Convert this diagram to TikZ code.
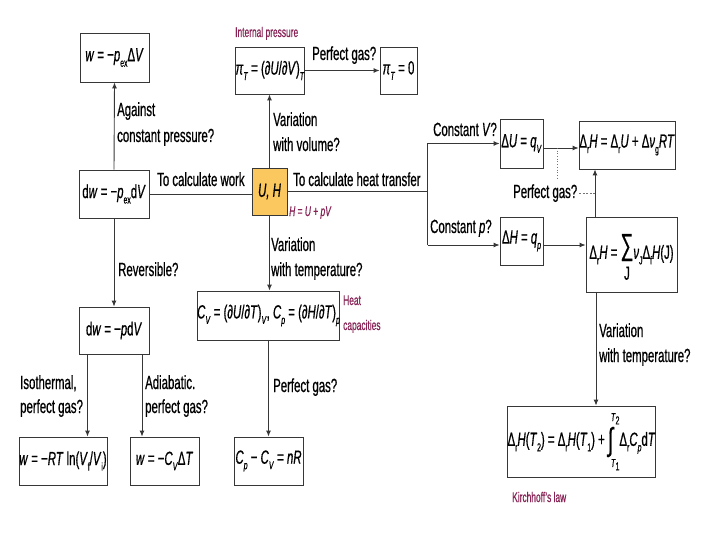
\documentclass[tikz,border=0pt]{standalone}
\usepackage{fontspec}
\setmainfont[FakeStretch=0.6,FakeBold=0.6]{Liberation Sans}
\usetikzlibrary{arrows.meta,calc}
\definecolor{lab}{RGB}{135,35,85}
\definecolor{uhfill}{RGB}{250,200,95}
\definecolor{lncol}{RGB}{55,55,55}
\newcommand\I[1]{\textit{#1}}
\newcommand\lo[1]{\raisebox{-0.55ex}{\fontsize{11.5}{11.5}\selectfont #1}}
\newcommand\smallt[1]{{\fontsize{11.5}{11.5}\selectfont #1}}
\begin{document}
\begin{tikzpicture}[x=1pt,y=-1pt,
  box/.style={draw=lncol, line width=0.9pt, inner sep=0pt, align=center, font=\fontsize{19}{21}\selectfont},
  lbl/.style={anchor=base west, inner sep=0pt, font=\fontsize{19}{21}\selectfont, text=black},
  plbl/.style={anchor=base west, inner sep=0pt, font=\fontsize{14}{16}\selectfont, text=lab},
  arr/.style={draw=lncol, line width=0.9pt, -{Latex[length=6pt,width=5pt]}},
  plain/.style={draw=lncol, line width=0.9pt}]
\fill[white] (0,0) rectangle (720,540);
\useasboundingbox (0,0) rectangle (720,540);

% boxes
\node[box, minimum width=69pt, minimum height=49pt] (wpex) at (114.5,57.5) {\I{w} = −\I{p}\lo{ex}Δ\I{V}};
\node[box, minimum width=70pt, minimum height=48pt] (dwpex) at (114,194) {d\I{w} = −\I{p}\lo{ex}d\I{V}};
\node[box, minimum width=70pt, minimum height=47pt] (dwp) at (114,330.5) {d\I{w} = −\I{p}d\I{V}};
\node[box, minimum width=88pt, minimum height=48pt] (wRT) at (63,461) {\I{w} = −\I{RT} ln(\I{V}\lo{f}/\I{V}\lo{i})};
\node[box, minimum width=69pt, minimum height=48pt] (wCv) at (164.5,461) {\I{w} = −\I{C}\lo{\I{V}}Δ\I{T}};
\node[box, minimum width=69pt, minimum height=48pt] (CpCv) at (268.5,461) {\I{C}\lo{\I{p}} − \I{C}\lo{\I{V}} = \I{nR}};
\node[box, minimum width=141pt, minimum height=49pt] (Cv) at (268.5,315.5) {\I{C}\lo{\I{V}} = (∂\I{U}/∂\I{T})\lo{\I{V}}, \I{C}\lo{\I{p}} = (∂\I{H}/∂\I{T})\lo{\I{p}}};
\node[box, fill=uhfill, minimum width=35pt, minimum height=47pt] (UH) at (269.5,191.5) {\I{U, H}};
\node[box, minimum width=68pt, minimum height=47pt] (piT) at (270,70.5) {\I{π}\lo{\I{T}} = (∂\I{U}/∂\I{V})\lo{\I{T}}};
\node[box, minimum width=37pt, minimum height=47pt] (pi0) at (398.5,70.5) {\I{π}\lo{\I{T}} = 0};
\node[box, minimum width=43pt, minimum height=49pt] (dU) at (521.5,143.5) {Δ\I{U} = \I{q}\lo{\I{V}}};
\node[box, minimum width=43pt, minimum height=48pt] (dH) at (521.5,241) {Δ\I{H} = \I{q}\lo{\I{p}}};
\node[box, minimum width=96pt, minimum height=48pt] (drH) at (627,145) {Δ\lo{r}\I{H} = Δ\lo{r}\I{U} + Δ\I{ν}\lo{g}\I{RT}};
\node[box, minimum width=91pt, minimum height=75pt] (sum) at (631.5,254.5) {Δ\lo{r}\I{H} = {\def\arraystretch{1}\begin{tabular}[c]{@{}c@{}}\\[-10pt]{\fontsize{30}{30}\selectfont ∑}\\[4pt] J\end{tabular}}\I{ν}\lo{J}Δ\lo{f}\I{H}(J)};
\node[box, minimum width=141pt, minimum height=71pt] (kir) at (581.5,441.5) {Δ\lo{r}\I{H}(\I{T}\lo{2}) = Δ\lo{r}\I{H}(\I{T}\lo{1}) + {\def\arraystretch{0.6}\begin{tabular}[c]{@{}l@{}}\smallt{\hspace{3pt}\I{T}\lo{2}}\\[2pt]{\fontsize{32}{32}\selectfont ∫}\\[4pt]\smallt{\hspace{3pt}\I{T}\lo{1}}\end{tabular}}Δ\lo{r}\I{C}\lo{\I{p}}d\I{T}};

% connectors, left part
\draw[arr] (dwpex.north) -- (wpex.south);
\draw[arr] (dwpex.south) -- (dwp.north);
\coordinate (a1) at ($(dwp.south)+(-26.5,0)$);
\coordinate (a2) at ($(dwp.south)+(28,0)$);
\draw[arr] (a1) -- (a1 |- wRT.north);
\draw[arr] (a2) -- (a2 |- wCv.north);
\draw[plain] (dwpex.east) -- (dwpex.east -| UH.west);

% centre
\draw[arr] (UH.north) -- (UH.north |- piT.south);
\draw[arr] (piT.east) -- (pi0.west);
\draw[arr] (UH.south) -- (UH.south |- Cv.north);
\draw[arr] (Cv.south) -- (Cv.south |- CpCv.north);

% heat transfer branch
\coordinate (jn) at (428,192);
\draw[plain] (UH.east) -- (UH.east -| jn);
\coordinate (jt) at ($(dU.west)+(-72,0)$);
\coordinate (jb) at ($(dH.west)+(-72,4)$);
\draw[plain] (jt) -- (jb);
\draw[arr] (jt) -- (dU.west);
\draw[arr] (jb) -- (jb -| dH.west);
\coordinate (dUa) at ($(dU.east)+(0,4.5)$);
\draw[arr] (dUa) -- (dUa -| drH.west);
\coordinate (dHa) at ($(dH.east)+(0,4)$);
\draw[arr] (dHa) -- (dHa -| sum.west);
\coordinate (s1) at ($(sum.north)+(-36.5,0)$);
\draw[arr] (s1) -- (s1 |- drH.south);
\coordinate (dt) at (557,180);
\draw[lncol!70, line width=0.7pt, dotted] (dt |- dUa) -- (dt);
\coordinate (s2) at ($(sum.south)+(-35.5,0)$);
\draw[arr] (s2) -- (s2 |- kir.north);

% labels
\node[lbl] (l1) at (117,116) {Against};
\node[lbl] (l2) at (117,142) {constant pressure?};
\node[lbl] (l3) at (157,186) {To calculate work};
\node[lbl] (l4) at (293,186) {To calculate heat transfer};
\node[lbl] (l5) at (118,276) {Reversible?};
\node[lbl] (l6) at (20,389) {Isothermal,};
\node[lbl] (l7) at (20,413) {perfect gas?};
\node[lbl] (l8) at (145,389) {Adiabatic.};
\node[lbl] (l9) at (145,413) {perfect gas?};
\node[lbl] (l10) at (273,126) {Variation};
\node[lbl] (l11) at (273,151) {with volume?};
\node[lbl] (l12) at (312,60) {Perfect gas?};
\node[lbl] (l13) at (271,251) {Variation};
\node[lbl] (l14) at (271,276) {with temperature?};
\node[lbl] (l15) at (273,392) {Perfect gas?};
\node[lbl] (l16) at (433,136) {Constant \I{V}?};
\node[lbl] (l17) at (430,233) {Constant \I{p}?};
\node[lbl] (pg2) at (513,198) {Perfect gas?};
\node[lbl] (l19) at (599,337) {Variation};
\node[lbl] (l20) at (599,362) {with temperature?};
\draw[lncol!70, line width=0.7pt, dash pattern=on 2pt off 1.5pt] ([xshift=2pt]pg2.east) -- (pg2.east -| s1);

\node[plbl] (p1) at (235,37) {Internal pressure};
\node[plbl] (p2) at (289,216) {\I{H} = \I{U} + \I{pV}};
\node[plbl] (p3) at (343,305) {Heat};
\node[plbl] (p4) at (343,330) {capacities};
\node[plbl] (p5) at (512,502) {Kirchhoff’s law};
\end{tikzpicture}
\end{document}
